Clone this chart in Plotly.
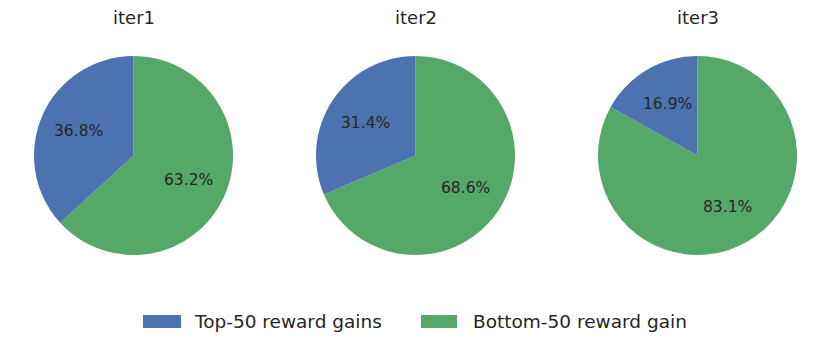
import math
import plotly.graph_objects as go

titles = ["iter1", "iter2", "iter3"]
series_names = ["Top-50 reward gains", "Bottom-50 reward gain"]
top50 = [36.8, 31.4, 16.9]
bottom50 = [63.2, 68.6, 83.1]
colors = ["#4C72B0", "#55A868"]

W, H = 831, 349
centers_px = [(133.5, 155.5), (415.5, 155.5), (697.5, 155.5)]
R = 99.5
FONT = "DejaVu Sans"
TXT = "#262626"

fig = go.Figure()
annotations = []
shapes = []
for i, t in enumerate(titles):
    cx, cy = centers_px[i]
    vals = [top50[i], bottom50[i]]
    # green first, clockwise from 12 o'clock -> blue ends on the left of 12 o'clock
    fig.add_trace(go.Pie(
        labels=[series_names[1], series_names[0]], values=[bottom50[i], top50[i]],
        sort=False, direction="clockwise", rotation=0,
        marker=dict(colors=[colors[1], colors[0]], line=dict(width=0)),
        textinfo="none", hoverinfo="label+percent", showlegend=False,
        domain=dict(x=[(cx - R) / W, (cx + R) / W], y=[(H - cy - R) / H, (H - cy + R) / H]),
    ))
    # percentage labels at 0.6 radius, mid-angle of each wedge (top-50 ccw from 12 o'clock)
    total = sum(vals)
    start = 90.0
    for v in vals:
        span = v / total * 360.0
        mid = math.radians(start + span / 2)
        x = cx + 0.6 * R * math.cos(mid)
        y = cy - 0.6 * R * math.sin(mid)
        annotations.append(dict(x=x / W, y=1 - y / H, xref="paper", yref="paper",
                                xanchor="center", yanchor="middle",
                                text=f"{v / total * 100:.1f}%", showarrow=False,
                                font=dict(family=FONT, size=15.5, color=TXT)))
        start += span
    annotations.append(dict(x=cx / W, y=1 - 17 / H, xref="paper", yref="paper", text=t,
                            xanchor="center", yanchor="middle",
                            showarrow=False, font=dict(family=FONT, size=18, color=TXT)))

# legend drawn manually
leg_items = [(143, 181, 192), (421, 457, 471)]
for (x0, x1, tx), name, col in zip(leg_items, series_names, colors):
    shapes.append(dict(type="rect", xref="paper", yref="paper", x0=x0 / W, x1=x1 / W,
                       y0=1 - 328 / H, y1=1 - 315 / H, fillcolor=col, line=dict(width=0)))
    annotations.append(dict(x=tx / W, y=1 - 321.5 / H, xref="paper", yref="paper",
                            text=name, xanchor="left", yanchor="middle", showarrow=False,
                            font=dict(family=FONT, size=18.5, color=TXT)))

fig.update_layout(width=W, height=H, margin=dict(l=0, r=0, t=0, b=0),
                  paper_bgcolor="white", plot_bgcolor="white",
                  annotations=annotations, shapes=shapes, font=dict(family=FONT))
fig.write_html("out.html", config={"displayModeBar": False},
               post_script="document.body.style.margin='0';")
